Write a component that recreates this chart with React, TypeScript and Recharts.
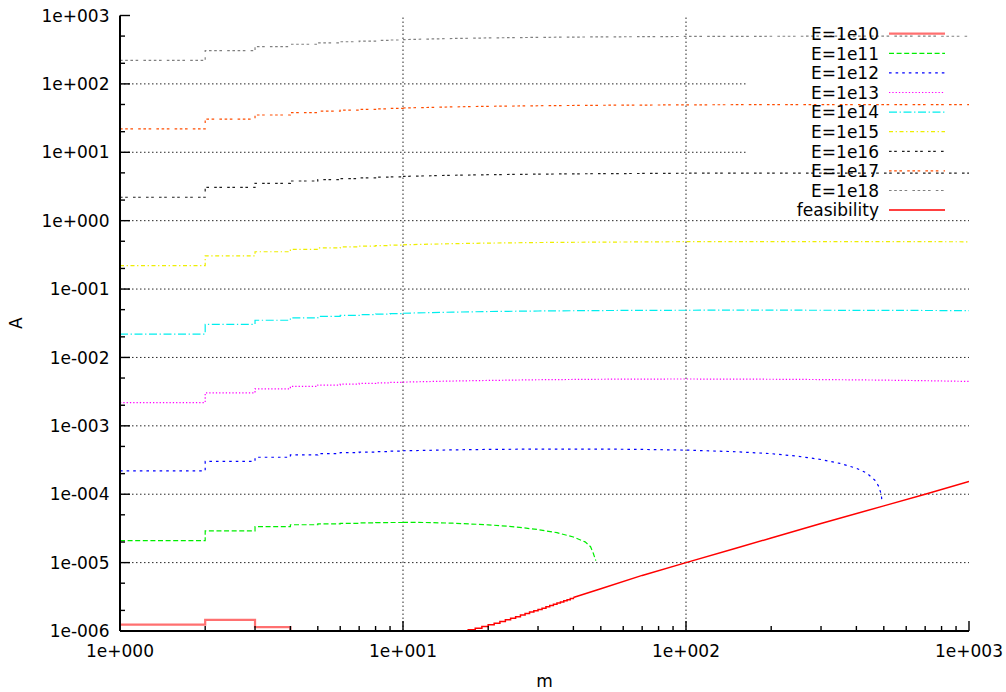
import React from 'react';
import { ComposedChart, Line, XAxis, YAxis, ReferenceLine, Legend } from 'recharts';

const FONT = '"DejaVu Sans", Verdana, sans-serif';
const FS = 17;

// ---- axis ticks ----
const X_DECADES = [1, 10, 100, 1000];
const X_LABELS = ['1e+000', '1e+001', '1e+002', '1e+003'];
const X_MINOR = [2, 3, 4, 5, 6, 7, 8, 9];
const Y_DECADES = [1e-6, 1e-5, 1e-4, 1e-3, 1e-2, 1e-1, 1, 10, 100, 1000];
const Y_LABELS = ['1e-006', '1e-005', '1e-004', '1e-003', '1e-002', '1e-001', '1e+000', '1e+001', '1e+002', '1e+003'];
const Y_MINOR = [2, 5];

// ---- data: m at integer steps and smooth tail ----
const M_STEP = [1, 2, 3, 4, 5, 6, 7, 8, 9, 10];
const M_TAIL = [10, 15, 20, 30, 50, 70, 100, 150, 200, 300, 500, 700, 1000];

const E18_STEP = [220, 306, 351, 380, 399, 413, 423, 432, 438, 444];
const E18_TAIL = [444, 461, 470, 479, 487, 490, 494, 496, 497, 498, 498, 498, 497];
const E17_STEP = [22.0, 30.6, 35.1, 38.0, 39.9, 41.3, 42.3, 43.2, 43.8, 44.4];
const E17_TAIL = [44.4, 46.1, 47.0, 47.9, 48.7, 49.0, 49.4, 49.6, 49.7, 49.8, 49.8, 49.8, 49.7];
const E16_STEP = [2.20, 3.06, 3.51, 3.80, 3.99, 4.13, 4.23, 4.32, 4.38, 4.44];
const E16_TAIL = [4.44, 4.61, 4.70, 4.79, 4.87, 4.90, 4.94, 4.96, 4.97, 4.97, 4.97, 4.96, 4.95];
const E15_STEP = [0.220, 0.306, 0.351, 0.380, 0.399, 0.413, 0.423, 0.432, 0.438, 0.444];
const E15_TAIL = [0.444, 0.461, 0.470, 0.479, 0.486, 0.489, 0.493, 0.495, 0.495, 0.495, 0.494, 0.493, 0.491];
const E14_STEP = [0.0220, 0.0305, 0.0350, 0.0379, 0.0398, 0.0412, 0.0422, 0.0431, 0.0437, 0.0443];
const E14_TAIL = [0.0443, 0.0460, 0.0469, 0.0478, 0.0485, 0.0488, 0.0490, 0.0491, 0.0491, 0.0490, 0.0488, 0.0486, 0.0484];
const E13_STEP = [0.00219, 0.00304, 0.00348, 0.00377, 0.00395, 0.00408, 0.00417, 0.00425, 0.00431, 0.00436];
const E13_TAIL = [0.00436, 0.00452, 0.00461, 0.00472, 0.00480, 0.00483, 0.00484, 0.00482, 0.00480, 0.00475, 0.00466, 0.00457, 0.00446];

const E12_STEP = [2.19e-4, 3.03e-4, 3.47e-4, 3.75e-4, 3.93e-4, 4.05e-4, 4.14e-4, 4.21e-4, 4.27e-4, 4.32e-4];
const E12_TAIL_M = [10, 15, 20, 30, 50, 70, 100, 150, 200, 250, 300, 350, 400, 435, 465, 480, 490, 493];
const E12_TAIL = [4.32e-4, 4.45e-4, 4.52e-4, 4.57e-4, 4.57e-4, 4.52e-4, 4.42e-4, 4.18e-4, 3.92e-4, 3.58e-4, 3.22e-4, 2.82e-4, 2.4e-4, 2.04e-4, 1.6e-4, 1.3e-4, 9.8e-5, 7.5e-5];

const E11_STEP = [2.09e-5, 2.92e-5, 3.35e-5, 3.58e-5, 3.69e-5, 3.76e-5, 3.81e-5, 3.84e-5, 3.86e-5, 3.87e-5];
const E11_TAIL_M = [10, 12, 15, 20, 25, 30, 35, 40, 44, 46, 47, 48];
const E11_TAIL = [3.87e-5, 3.86e-5, 3.77e-5, 3.57e-5, 3.33e-5, 3.04e-5, 2.74e-5, 2.37e-5, 2.01e-5, 1.71e-5, 1.38e-5, 1.07e-5];

const E10_M = [1, 2, 3, 4];
const E10_STEP = [1.24e-6, 1.45e-6, 1.14e-6, 1.0e-6];

const FEAS_STEP_M = [4, 17, 18, 19, 20, 21, 22, 23, 24, 25, 26, 27, 28, 29, 30, 31, 32, 33, 34, 35, 36, 37, 38, 39, 40];
const FEAS_STEP = [1.0e-6, 1.04e-6, 1.10e-6, 1.16e-6, 1.23e-6, 1.30e-6, 1.38e-6, 1.46e-6, 1.54e-6, 1.62e-6, 1.71e-6, 1.80e-6, 1.89e-6, 1.98e-6, 2.07e-6, 2.16e-6, 2.26e-6, 2.36e-6, 2.46e-6, 2.56e-6, 2.66e-6, 2.76e-6, 2.87e-6, 2.98e-6, 3.09e-6];
const FEAS_TAIL_M = [40, 50, 70, 100, 150, 200, 300, 500, 700, 1000];
const FEAS_TAIL = [3.09e-6, 4.15e-6, 6.5e-6, 1.0e-5, 1.62e-5, 2.29e-5, 3.73e-5, 6.76e-5, 1.0e-4, 1.54e-4];

const pts = (ms: number[], vs: number[]) => ms.map((m, i) => ({ m, a: vs[i] }));

type Part = { type: 'stepAfter' | 'linear'; data: { m: number; a: number }[] };
type Series = { name: string; color: string; width: number; dash?: string; parts: Part[] };

const SERIES: Series[] = [
  { name: 'E=1e10', color: '#ff7070', width: 2.2, parts: [{ type: 'stepAfter', data: pts(E10_M, E10_STEP) }] },
  { name: 'E=1e11', color: '#00ee00', width: 1.2, dash: '5 2.6', parts: [{ type: 'stepAfter', data: pts(M_STEP, E11_STEP) }, { type: 'linear', data: pts(E11_TAIL_M, E11_TAIL) }] },
  { name: 'E=1e12', color: '#0000ff', width: 1.2, dash: '2.6 4', parts: [{ type: 'stepAfter', data: pts(M_STEP, E12_STEP) }, { type: 'linear', data: pts(E12_TAIL_M, E12_TAIL) }] },
  { name: 'E=1e13', color: '#ff00ff', width: 1.2, dash: '1.3 2', parts: [{ type: 'stepAfter', data: pts(M_STEP, E13_STEP) }, { type: 'linear', data: pts(M_TAIL, E13_TAIL) }] },
  { name: 'E=1e14', color: '#00eeee', width: 1.2, dash: '8 2.6 1.3 2.6', parts: [{ type: 'stepAfter', data: pts(M_STEP, E14_STEP) }, { type: 'linear', data: pts(M_TAIL, E14_TAIL) }] },
  { name: 'E=1e15', color: '#eeee00', width: 1.2, dash: '4 2.6 1.3 2.6', parts: [{ type: 'stepAfter', data: pts(M_STEP, E15_STEP) }, { type: 'linear', data: pts(M_TAIL, E15_TAIL) }] },
  { name: 'E=1e16', color: '#202020', width: 1.2, dash: '2.6 2.6 2.6 5.2', parts: [{ type: 'stepAfter', data: pts(M_STEP, E16_STEP) }, { type: 'linear', data: pts(M_TAIL, E16_TAIL) }] },
  { name: 'E=1e17', color: '#ff4d00', width: 1.2, dash: '2.6 2.6 2.6 2.6 2.6 5.2', parts: [{ type: 'stepAfter', data: pts(M_STEP, E17_STEP) }, { type: 'linear', data: pts(M_TAIL, E17_TAIL) }] },
  { name: 'E=1e18', color: '#808080', width: 1.2, dash: '2.6 2.6 2.6 2.6 2.6 2.6 2.6 5.2', parts: [{ type: 'stepAfter', data: pts(M_STEP, E18_STEP) }, { type: 'linear', data: pts(M_TAIL, E18_TAIL) }] },
  { name: 'feasibility', color: '#ff0000', width: 1.5, parts: [{ type: 'stepAfter', data: pts(FEAS_STEP_M, FEAS_STEP) }, { type: 'linear', data: pts(FEAS_TAIL_M, FEAS_TAIL) }] },
];

const X_TICKS = X_DECADES.flatMap((d, i) => (i < X_DECADES.length - 1 ? [d, ...X_MINOR.map((k) => k * d)] : [d]));
const Y_TICKS = Y_DECADES.flatMap((d, i) => (i < Y_DECADES.length - 1 ? [d, ...Y_MINOR.map((k) => k * d)] : [d]));

const sameLog = (a: number, b: number) => Math.abs(Math.log10(a) - Math.log10(b)) < 1e-6;
const labelOf = (v: number, decades: number[], labels: string[]) => {
  const i = decades.findIndex((d) => sameLog(d, v));
  return i >= 0 ? labels[i] : null;
};

const MAJOR = 10;
const MINOR = 5;
const TICK_W = 1.4;

const BottomTick = (p: any) => {
  const { x, y, payload } = p;
  const lab = labelOf(payload.value, X_DECADES, X_LABELS);
  return (
    <g>
      <line x1={x} x2={x} y1={y} y2={y - (lab ? MAJOR : MINOR)} stroke="#000" strokeWidth={TICK_W} />
      {lab && (
        <text x={x} y={y + 26} textAnchor="middle" fontFamily={FONT} fontSize={FS} fill="#000">
          {lab}
        </text>
      )}
    </g>
  );
};
const TopTick = (p: any) => {
  const { x, y, payload } = p;
  const lab = labelOf(payload.value, X_DECADES, X_LABELS);
  return <line x1={x} x2={x} y1={y} y2={y + (lab ? MAJOR : MINOR)} stroke="#000" strokeWidth={TICK_W} />;
};
const LeftTick = (p: any) => {
  const { x, y, payload } = p;
  const lab = labelOf(payload.value, Y_DECADES, Y_LABELS);
  return (
    <g>
      <line x1={x} x2={x + (lab ? MAJOR : MINOR)} y1={y} y2={y} stroke="#000" strokeWidth={TICK_W} />
      {lab && (
        <text x={x - 10.5} y={y + 6.2} textAnchor="end" fontFamily={FONT} fontSize={FS} fill="#000">
          {lab}
        </text>
      )}
    </g>
  );
};
const RightTick = (p: any) => {
  const { x, y, payload } = p;
  const lab = labelOf(payload.value, Y_DECADES, Y_LABELS);
  return <line x1={x} x2={x - (lab ? MAJOR : MINOR)} y1={y} y2={y} stroke="#000" strokeWidth={TICK_W} />;
};

const YTitle = (p: any) => {
  const vb = p.viewBox || { x: 0, y: 15.5, width: 120, height: 615.5 };
  const cx = vb.x + 22;
  const cy = vb.y + vb.height / 2;
  return (
    <text x={cx} y={cy} transform={`rotate(-90 ${cx} ${cy})`} textAnchor="middle" fontFamily={FONT} fontSize={FS} fill="#000">
      A
    </text>
  );
};
const XTitle = (p: any) => {
  const vb = p.viewBox || { x: 120, y: 631, width: 849, height: 61 };
  return (
    <text x={vb.x + vb.width / 2} y={vb.y + 56} textAnchor="middle" fontFamily={FONT} fontSize={FS} fill="#000">
      m
    </text>
  );
};

const LegendBox = () => (
  <svg width={240} height={210} style={{ display: 'block', overflow: 'visible' }}>
    {SERIES.map((s, i) => {
      const cy = 13.7 + 19.6 * i;
      return (
        <g key={s.name}>
          <text x={139} y={cy + 6.2} textAnchor="end" fontFamily={FONT} fontSize={FS} fill="#000">
            {s.name}
          </text>
          <line x1={149} x2={205} y1={cy} y2={cy} stroke={s.color} strokeWidth={s.width} strokeDasharray={s.dash} />
        </g>
      );
    })}
  </svg>
);

const GRID = { stroke: '#000', strokeOpacity: 0.85, strokeWidth: 1, strokeDasharray: '1.5 2.5' };
const FULL_H = [1e-5, 1e-4, 1e-3, 1e-2, 1e-1, 1];
const CUT_H = [10, 100];
const KEY_EDGE_M = 165.6;
const V_GRID = [10, 100];

export default function App() {
  return (
    <div style={{ position: 'absolute', left: 0, top: 0, width: 1006, height: 692, background: '#fff' }}>
      <ComposedChart width={1006} height={692} margin={{ top: 15.5, right: 37, bottom: 0, left: 0 }}>
        <XAxis
          dataKey="m"
          type="number"
          scale="log"
          domain={[1, 1000]}
          allowDataOverflow
          ticks={X_TICKS}
          interval={0}
          tick={<BottomTick />}
          tickLine={false}
          tickSize={0}
          tickMargin={0}
          height={61}
          axisLine={{ stroke: '#000', strokeWidth: 2 }}
          label={{ value: 'm', content: XTitle }}
        />
        <XAxis
          xAxisId="top"
          orientation="top"
          dataKey="m"
          type="number"
          scale="log"
          domain={[1, 1000]}
          allowDataOverflow
          ticks={X_TICKS}
          interval={0}
          tick={<TopTick />}
          tickLine={false}
          tickSize={0}
          tickMargin={0}
          height={0}
          axisLine={{ stroke: '#000', strokeWidth: 2 }}
        />
        <YAxis
          type="number"
          scale="log"
          domain={[1e-6, 1000]}
          allowDataOverflow
          ticks={Y_TICKS}
          interval={0}
          tick={<LeftTick />}
          tickLine={false}
          tickSize={0}
          tickMargin={0}
          width={120}
          axisLine={{ stroke: '#000', strokeWidth: 2 }}
          label={{ value: 'A', content: YTitle }}
        />
        <YAxis
          yAxisId="right"
          orientation="right"
          type="number"
          scale="log"
          domain={[1e-6, 1000]}
          allowDataOverflow
          ticks={Y_TICKS}
          interval={0}
          tick={<RightTick />}
          tickLine={false}
          tickSize={0}
          tickMargin={0}
          width={0}
          axisLine={{ stroke: '#000', strokeWidth: 2 }}
        />
        {V_GRID.map((v) => (
          <ReferenceLine key={`vx${v}`} x={v} {...GRID} />
        ))}
        {FULL_H.map((v) => (
          <ReferenceLine key={`hy${v}`} y={v} {...GRID} />
        ))}
        {CUT_H.map((v) => (
          <ReferenceLine key={`cy${v}`} segment={[{ x: 1, y: v }, { x: KEY_EDGE_M, y: v }]} {...GRID} />
        ))}
        {SERIES.flatMap((s) =>
          s.parts.map((p, j) => (
            <Line
              key={`${s.name}-${j}`}
              data={p.data}
              dataKey="a"
              name={s.name}
              type={p.type}
              stroke={s.color}
              strokeWidth={s.width}
              strokeDasharray={s.dash}
              dot={false}
              activeDot={false}
              isAnimationActive={false}
              legendType="none"
            />
          ))
        )}
        <Legend
          layout="vertical"
          align="center"
          verticalAlign="middle"
          content={<LegendBox />}
          wrapperStyle={{ left: 740, top: 20, width: 240, height: 210 }}
        />
      </ComposedChart>
    </div>
  );
}
